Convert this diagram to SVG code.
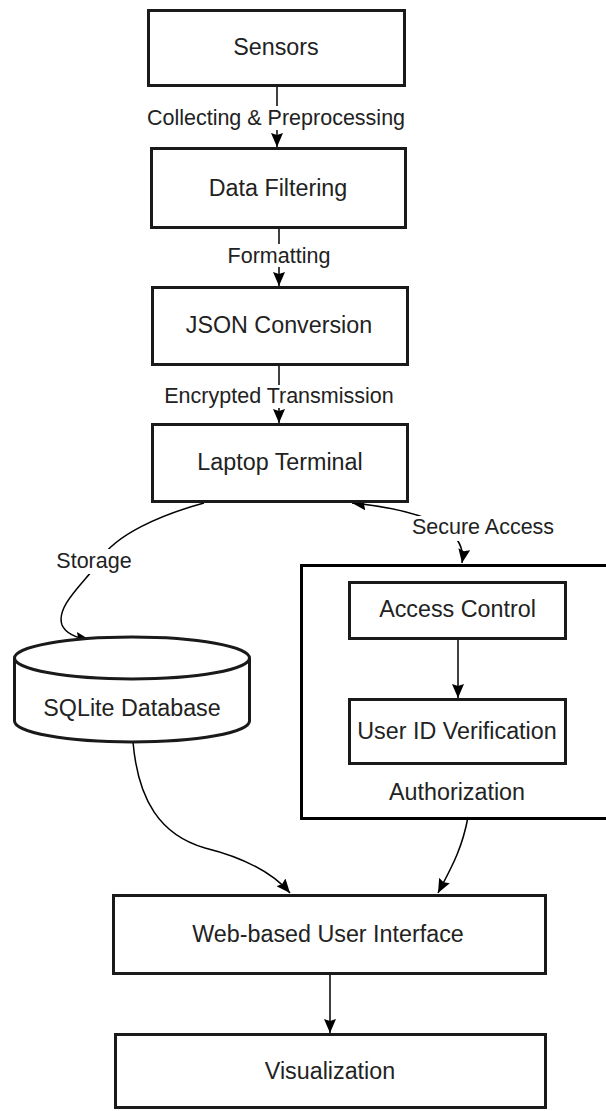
<svg xmlns="http://www.w3.org/2000/svg" width="606" height="1111" viewBox="0 0 606 1111">
  <style>
    .box { fill: #ffffff; stroke: #1a1a1a; stroke-width: 3; }
    .frame { fill: none; stroke: #000000; stroke-width: 3; }
    .edge { fill: none; stroke: #000000; stroke-width: 1.5; }
    .lbl { font-family: "Liberation Sans", Arial, sans-serif; font-size: 23.3px; fill: #222222; text-anchor: middle; }
    .elbl { font-family: "Liberation Sans", Arial, sans-serif; font-size: 21.5px; fill: #222222; text-anchor: middle; }
    .lblbg { fill: #ffffff; stroke: none; }
  </style>
  <defs>
    <marker id="arrow" viewBox="0 0 14 12" refX="14" refY="6" markerWidth="14" markerHeight="12" markerUnits="userSpaceOnUse" orient="auto-start-reverse">
      <path d="M0,0 L14,6 L0,12 L2,6 Z" fill="#000000"/>
    </marker>
  </defs>

  <rect width="606" height="1111" fill="#ffffff"/>

  <!-- connectors -->
  <g id="connectors">
    <path class="edge" d="M277 87 L277 147" marker-end="url(#arrow)"/>
    <path class="edge" d="M279 229 L279 286" marker-end="url(#arrow)"/>
    <path class="edge" d="M279 366 L279 423" marker-end="url(#arrow)"/>
    <!-- storage -->
    <path class="edge" d="M204 503 C160 515, 115 535, 100 560 C88 580, 55 605, 62 625 C66 634, 76 638, 90 640" marker-end="url(#arrow)"/>
    <!-- secure access (both ways) -->
    <path class="edge" d="M352 503 Q470 515 462 563" marker-start="url(#arrow)" marker-end="url(#arrow)"/>
    <path class="edge" d="M458 640 L458 698" marker-end="url(#arrow)"/>
    <path class="edge" d="M133 742 C138 800, 160 835, 205 848 C245 858, 272 872, 290 893" marker-end="url(#arrow)"/>
    <path class="edge" d="M468 817 C462 850, 450 870, 438 893" marker-end="url(#arrow)"/>
    <path class="edge" d="M330 975 L330 1033" marker-end="url(#arrow)"/>

    <!-- edge labels -->
    <rect class="lblbg" x="146" y="106" width="261" height="24"/>
    <text class="elbl" x="276" y="125">Collecting &amp; Preprocessing</text>
    <rect class="lblbg" x="227" y="244" width="104" height="23"/>
    <text class="elbl" x="279" y="263">Formatting</text>
    <rect class="lblbg" x="164" y="385" width="230" height="23"/>
    <text class="elbl" x="279" y="403">Encrypted Transmission</text>
    <rect class="lblbg" x="56" y="549" width="76" height="25"/>
    <text class="elbl" x="94" y="568">Storage</text>
    <rect class="lblbg" x="410" y="516" width="146" height="25"/>
    <text class="elbl" x="483" y="534">Secure Access</text>
  </g>

  <g id="sensors">
    <rect class="box" x="148.5" y="10.5" width="256" height="75"/>
    <text class="lbl" x="276" y="55">Sensors</text>
  </g>
  <g id="data-filtering">
    <rect class="box" x="151.5" y="148.5" width="254" height="79"/>
    <text class="lbl" x="278" y="196">Data Filtering</text>
  </g>
  <g id="json-conversion">
    <rect class="box" x="152.5" y="287.5" width="255" height="77"/>
    <text class="lbl" x="279" y="333">JSON Conversion</text>
  </g>
  <g id="laptop-terminal">
    <rect class="box" x="152.5" y="424.5" width="255" height="77"/>
    <text class="lbl" x="280" y="470">Laptop Terminal</text>
  </g>
  <g id="sqlite-database">
    <path class="box" d="M14.5 658 L14.5 721 A117.5 21 0 0 0 249.5 721 L249.5 658 A117.5 21 0 0 0 14.5 658 Z"/>
    <path class="box" d="M14.5 658 A117.5 21 0 0 0 249.5 658" fill="none"/>
    <text class="lbl" x="132" y="716">SQLite Database</text>
  </g>
  <g id="authorization">
    <rect class="frame" x="301.5" y="565.5" width="310" height="253"/>
    <text class="lbl" x="457" y="800">Authorization</text>
  </g>
  <g id="access-control">
    <rect class="box" x="349.5" y="582.5" width="216" height="56"/>
    <text class="lbl" x="457.5" y="617">Access Control</text>
  </g>
  <g id="user-id-verification">
    <rect class="box" x="349.5" y="699.5" width="216" height="64"/>
    <text class="lbl" x="457" y="739">User ID Verification</text>
  </g>
  <g id="web-ui">
    <rect class="box" x="113.5" y="895.5" width="432" height="78"/>
    <text class="lbl" x="328" y="942">Web-based User Interface</text>
  </g>
  <g id="visualization">
    <rect class="box" x="115.5" y="1034.5" width="430" height="73"/>
    <text class="lbl" x="330" y="1079">Visualization</text>
  </g>
</svg>
